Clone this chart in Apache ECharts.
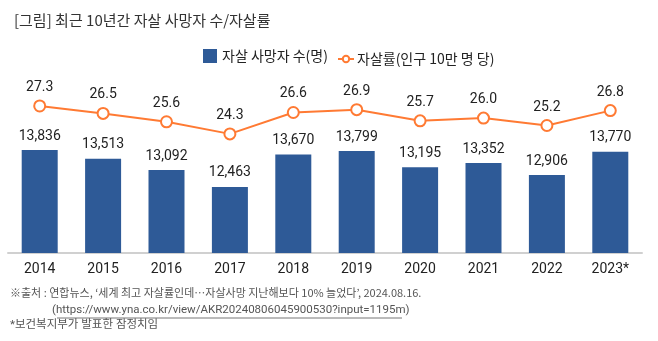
<!DOCTYPE html>
<html><head><meta charset="utf-8">
<script src="https://cdn.jsdelivr.net/npm/echarts@6/dist/echarts.min.js"></script>
<style>html,body{margin:0;padding:0;background:#fff}#c{width:658px;height:341px}</style>
</head><body><div id="c"></div>
<script>
const years = ['2014','2015','2016','2017','2018','2019','2020','2021','2022','2023*'];
const deaths = [13836,13513,13092,12463,13670,13799,13195,13352,12906,13770];
const rates = [27.3,26.5,25.6,24.3,26.6,26.9,25.7,26.0,25.2,26.8];
const FONT = 'Roboto, "Noto Sans CJK KR", sans-serif';
const KFONT = '"Noto Sans CJK KR", sans-serif';
const chart = echarts.init(document.getElementById('c'));
chart.setOption({
  animation:false,
  title:{text:'[그림] 최근 10년간 자살 사망자 수/자살률',left:9,top:8,
    textStyle:{fontFamily:KFONT,fontSize:15,fontWeight:'normal',color:'#333'}},
  legend:[
    {top:44,left:198,itemWidth:14,itemHeight:14,itemGap:8,
     textStyle:{fontFamily:KFONT,fontSize:14,color:'#222'},
     data:[{name:'자살 사망자 수(명)',icon:'rect'}]},
    {top:47,left:332,itemWidth:16,itemHeight:8,
     textStyle:{fontFamily:KFONT,fontSize:14,color:'#222',padding:[0,0,0,-2]},
     data:[{name:'자살률(인구 10만 명 당)'}]}
  ],
  grid:{left:8,right:16,top:92,bottom:88},
  xAxis:{type:'category',data:years,
    axisLine:{lineStyle:{color:'#d0d0d0',width:2}},axisTick:{show:false},
    axisLabel:{fontFamily:FONT,fontSize:14,color:'#222',margin:10}},
  yAxis:[{type:'value',min:10000,max:16000,show:false,splitLine:{show:false}},
         {type:'value',min:11.5,max:28.8,show:false,splitLine:{show:false}}],
  series:[
    {name:'자살 사망자 수(명)',type:'bar',data:deaths,barWidth:36,yAxisIndex:0,
     itemStyle:{color:'#2E5A97'},
     label:{show:true,position:'top',distance:7,fontFamily:FONT,fontSize:14,color:'#222',
       formatter:p=>p.value.toLocaleString('en-US')}},
    {name:'자살률(인구 10만 명 당)',type:'line',data:rates,yAxisIndex:1,
     symbol:'circle',symbolSize:11,
     lineStyle:{color:'#FF7A33',width:2},
     itemStyle:{color:'#fff',borderColor:'#FF7A33',borderWidth:2},
     label:{show:true,position:'top',distance:5,fontFamily:FONT,fontSize:14,color:'#222',
       formatter:p=>p.value.toFixed(1)}}
  ],
  graphic:[
    {type:'text',left:10,top:287,style:{text:'※출처 : 연합뉴스, ‘세계 최고 자살률인데…자살사망 지난해보다 10% 늘었다’, 2024.08.16.',font:'11px '+KFONT,fill:'#555'}},
    {type:'text',left:52,top:304,style:{text:'(https://www.yna.co.kr/view/AKR20240806045900530?input=1195m)',font:'11.5px '+FONT,fill:'#555'}},
    {type:'line',shape:{x1:57,y1:318,x2:402,y2:318},style:{stroke:'#777',lineWidth:1}},
    {type:'text',left:10,top:319,style:{text:'*보건복지부가 발표한 잠정치임',font:'11.5px '+FONT,fill:'#555'}}
  ]
});
</script></body></html>
